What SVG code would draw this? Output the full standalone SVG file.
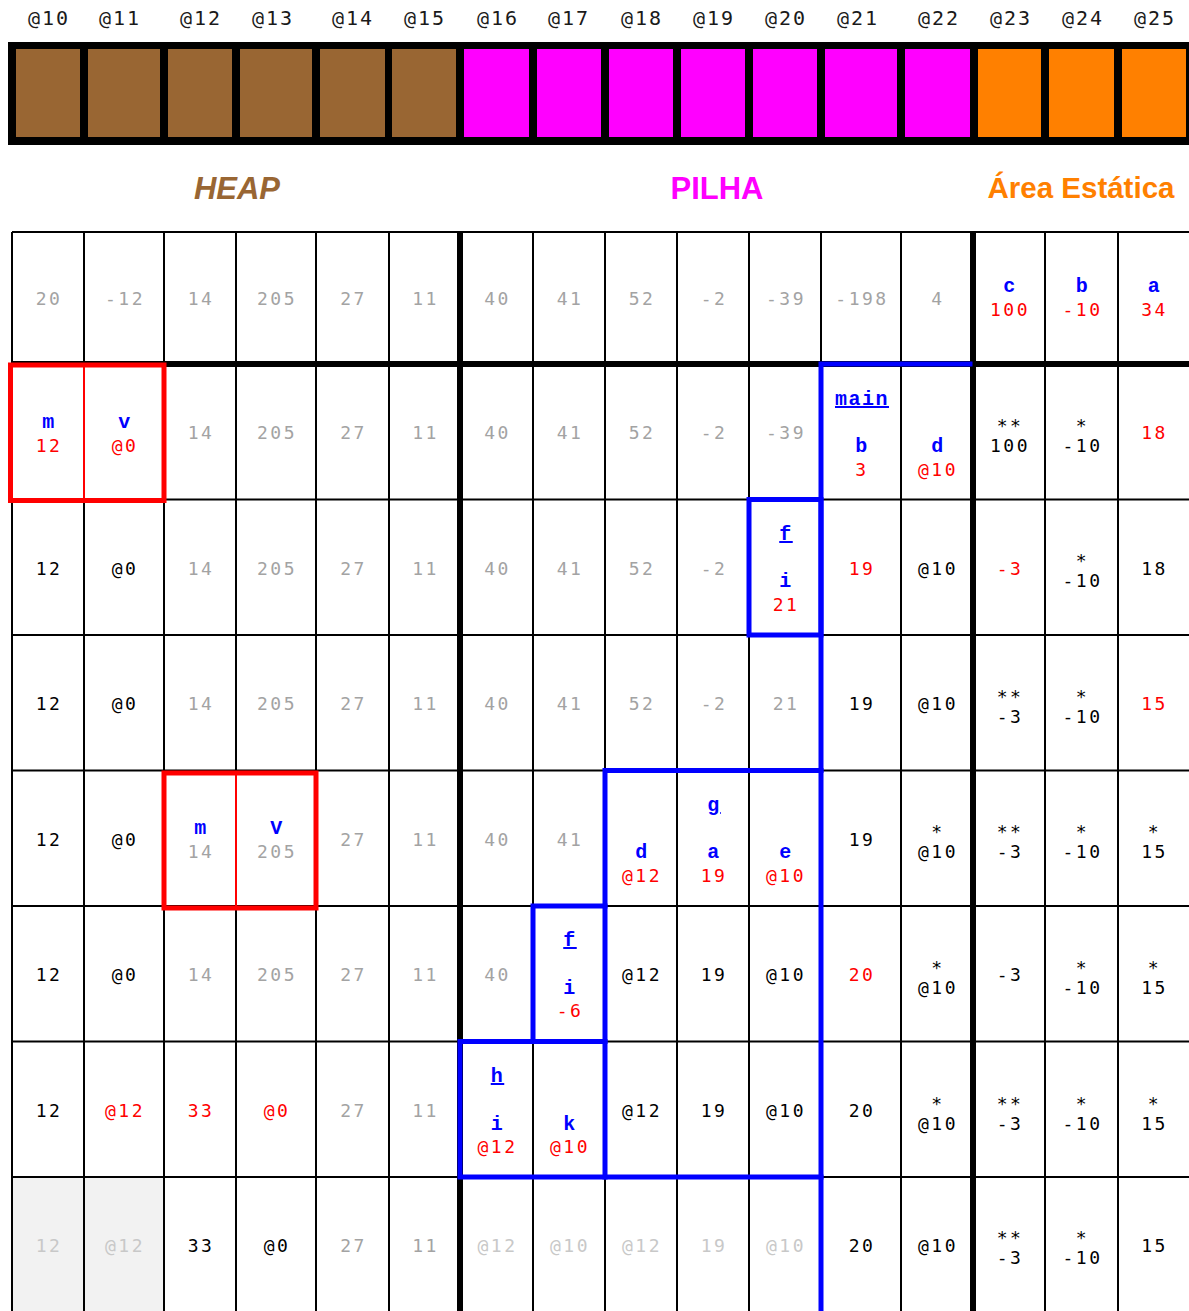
<svg xmlns="http://www.w3.org/2000/svg" width="1189" height="1311" viewBox="0 0 1189 1311">
<style>
.h{font-family:"DejaVu Sans Mono",monospace;font-size:20px;letter-spacing:2px;fill:#1a1a1a;text-anchor:middle}
.v{font-family:"DejaVu Sans Mono",monospace;font-size:18px;letter-spacing:2.5px;text-anchor:middle}
.g{fill:#a3a3a3}.k{fill:#000}.r{fill:#ff0000}.l{fill:#c8c8c8}
.n{font-family:"Liberation Mono","Courier New",monospace;font-weight:bold;font-size:20px;letter-spacing:1.5px;fill:#0000ff;text-anchor:middle}
.u{text-decoration:underline}
.sec{font-family:"Liberation Sans",Arial,sans-serif;font-weight:bold;text-anchor:middle}
.thin{stroke:#000;stroke-width:2;fill:none}
.thick{stroke:#000;stroke-width:6;fill:none}
.blue{stroke:#0000ff;stroke-width:5;fill:none;stroke-linecap:square}
.red{stroke:#ff0000;stroke-width:5;fill:none}
.redthin{stroke:#ff0000;stroke-width:2}
</style>
<rect width="1189" height="1311" fill="#fff"/>
<g id="addresses">
<text class="h" x="49" y="25">@10</text><text class="h" x="120" y="25">@11</text><text class="h" x="201" y="25">@12</text><text class="h" x="273" y="25">@13</text><text class="h" x="353" y="25">@14</text><text class="h" x="425" y="25">@15</text><text class="h" x="498" y="25">@16</text><text class="h" x="569" y="25">@17</text><text class="h" x="642" y="25">@18</text><text class="h" x="714" y="25">@19</text><text class="h" x="786" y="25">@20</text><text class="h" x="858" y="25">@21</text><text class="h" x="939" y="25">@22</text><text class="h" x="1011" y="25">@23</text><text class="h" x="1083" y="25">@24</text><text class="h" x="1155" y="25">@25</text>
</g>
<g id="memory-bar">
<rect x="8" y="42" width="1181" height="103" fill="#000"/>
<g fill="#996633"><rect x="16" y="49" width="64" height="88"/><rect x="88" y="49" width="72" height="88"/><rect x="168" y="49" width="64" height="88"/><rect x="240" y="49" width="72" height="88"/><rect x="320" y="49" width="65" height="88"/><rect x="392" y="49" width="64" height="88"/></g>
<g fill="#ff00ff"><rect x="464" y="49" width="65" height="88"/><rect x="537" y="49" width="64" height="88"/><rect x="609" y="49" width="64" height="88"/><rect x="681" y="49" width="64" height="88"/><rect x="753" y="49" width="64" height="88"/><rect x="825" y="49" width="72" height="88"/><rect x="905" y="49" width="65" height="88"/></g>
<g fill="#ff8000"><rect x="978" y="49" width="63" height="88"/><rect x="1049" y="49" width="65" height="88"/><rect x="1122" y="49" width="64" height="88"/></g>
</g>
<g id="sections">
<text class="sec" x="237" y="199" font-size="31" font-style="italic" fill="#996633">HEAP</text>
<text class="sec" x="717" y="199" font-size="31" fill="#ff00ff">PILHA</text>
<text class="sec" x="1081" y="198" font-size="29.5" fill="#ff8000">Área Estática</text>
</g>
<rect x="12" y="1177" width="152" height="134" fill="#f2f2f2"/>
<g id="grid">
<path class="thin" d="M12,232V1311M84,232V1311M164,232V1311M236,232V1311M316,232V1311M389,232V1311M533,232V1311M605,232V1311M677,232V1311M749,232V1311M821,232V1311M901,232V1311M1045,232V1311M1118,232V1311"/>
<path class="thin" d="M12,232H1189M12,499.5H1189M12,635H1189M12,770.5H1189M12,906H1189M12,1041.5H1189M12,1177H1189"/>
<path class="thick" d="M460,232V1311M973,232V1311M12,364H1189"/>
</g>
<g id="cells">
<g id="r1"><text class="v g" x="49" y="305">20</text><text class="v g" x="125" y="305">-12</text><text class="v g" x="201" y="305">14</text><text class="v g" x="277" y="305">205</text><text class="v g" x="353.5" y="305">27</text><text class="v g" x="425.5" y="305">11</text><text class="v g" x="497.5" y="305">40</text><text class="v g" x="570" y="305">41</text><text class="v g" x="642" y="305">52</text><text class="v g" x="714" y="305">-2</text><text class="v g" x="786" y="305">-39</text><text class="v g" x="862" y="305">-198</text><text class="v g" x="938" y="305">4</text>
<g id="var-c"><text class="n" x="1010" y="292">c</text><text class="v r" x="1010" y="316">100</text></g>
<g id="var-b"><text class="n" x="1082.5" y="292">b</text><text class="v r" x="1082.5" y="316">-10</text></g>
<g id="var-a"><text class="n" x="1154.5" y="292">a</text><text class="v r" x="1154.5" y="316">34</text></g></g>
<g id="r2"><text class="n" x="49" y="428">m</text><text class="v r" x="49" y="452">12</text><text class="n" x="125" y="428">v</text><text class="v r" x="125" y="452">@0</text><text class="v g" x="201" y="439">14</text><text class="v g" x="277" y="439">205</text><text class="v g" x="353.5" y="439">27</text><text class="v g" x="425.5" y="439">11</text><text class="v g" x="497.5" y="439">40</text><text class="v g" x="570" y="439">41</text><text class="v g" x="642" y="439">52</text><text class="v g" x="714" y="439">-2</text><text class="v g" x="786" y="439">-39</text>
<text class="n u" x="862" y="405">main</text><text class="n" x="862" y="452">b</text><text class="v r" x="862" y="475.5">3</text><text class="n" x="938" y="452">d</text><text class="v r" x="938" y="475.5">@10</text>
<text class="v k" x="1010" y="432">**</text><text class="v k" x="1010" y="452">100</text><text class="v k" x="1082.5" y="432">*</text><text class="v k" x="1082.5" y="452">-10</text><text class="v r" x="1154.5" y="439">18</text></g>
<g id="r3"><text class="v k" x="49" y="575">12</text><text class="v k" x="125" y="575">@0</text><text class="v g" x="201" y="575">14</text><text class="v g" x="277" y="575">205</text><text class="v g" x="353.5" y="575">27</text><text class="v g" x="425.5" y="575">11</text><text class="v g" x="497.5" y="575">40</text><text class="v g" x="570" y="575">41</text><text class="v g" x="642" y="575">52</text><text class="v g" x="714" y="575">-2</text>
<text class="n u" x="786" y="540">f</text><text class="n" x="786" y="587">i</text><text class="v r" x="786" y="611">21</text>
<text class="v r" x="862" y="575">19</text><text class="v k" x="938" y="575">@10</text><text class="v r" x="1010" y="575">-3</text><text class="v k" x="1082.5" y="567">*</text><text class="v k" x="1082.5" y="587">-10</text><text class="v k" x="1154.5" y="575">18</text></g>
<g id="r4"><text class="v k" x="49" y="710">12</text><text class="v k" x="125" y="710">@0</text><text class="v g" x="201" y="710">14</text><text class="v g" x="277" y="710">205</text><text class="v g" x="353.5" y="710">27</text><text class="v g" x="425.5" y="710">11</text><text class="v g" x="497.5" y="710">40</text><text class="v g" x="570" y="710">41</text><text class="v g" x="642" y="710">52</text><text class="v g" x="714" y="710">-2</text><text class="v g" x="786" y="710">21</text><text class="v k" x="862" y="710">19</text><text class="v k" x="938" y="710">@10</text>
<text class="v k" x="1010" y="703">**</text><text class="v k" x="1010" y="723">-3</text><text class="v k" x="1082.5" y="703">*</text><text class="v k" x="1082.5" y="723">-10</text><text class="v r" x="1154.5" y="710">15</text></g>
<g id="r5"><text class="v k" x="49" y="845.5">12</text><text class="v k" x="125" y="845.5">@0</text><text class="n" x="201" y="834">m</text><text class="v g" x="201" y="858">14</text><text class="n" x="277" y="834">V</text><text class="v g" x="277" y="858">205</text><text class="v g" x="353.5" y="845.5">27</text><text class="v g" x="425.5" y="845.5">11</text><text class="v g" x="497.5" y="845.5">40</text><text class="v g" x="570" y="845.5">41</text>
<text class="n" x="642" y="858">d</text><text class="v r" x="642" y="882">@12</text><text class="n u" x="714" y="811">g</text><text class="n" x="714" y="858">a</text><text class="v r" x="714" y="882">19</text><text class="n" x="786" y="858">e</text><text class="v r" x="786" y="882">@10</text>
<text class="v k" x="862" y="845.5">19</text><text class="v k" x="938" y="838">*</text><text class="v k" x="938" y="858">@10</text><text class="v k" x="1010" y="838">**</text><text class="v k" x="1010" y="858">-3</text><text class="v k" x="1082.5" y="838">*</text><text class="v k" x="1082.5" y="858">-10</text><text class="v k" x="1154.5" y="838">*</text><text class="v k" x="1154.5" y="858">15</text></g>
<g id="r6"><text class="v k" x="49" y="981">12</text><text class="v k" x="125" y="981">@0</text><text class="v g" x="201" y="981">14</text><text class="v g" x="277" y="981">205</text><text class="v g" x="353.5" y="981">27</text><text class="v g" x="425.5" y="981">11</text><text class="v g" x="497.5" y="981">40</text>
<text class="n u" x="570" y="946">f</text><text class="n" x="570" y="993.5">i</text><text class="v r" x="570" y="1017">-6</text>
<text class="v k" x="642" y="981">@12</text><text class="v k" x="714" y="981">19</text><text class="v k" x="786" y="981">@10</text><text class="v r" x="862" y="981">20</text><text class="v k" x="938" y="974">*</text><text class="v k" x="938" y="994">@10</text><text class="v k" x="1010" y="981">-3</text><text class="v k" x="1082.5" y="974">*</text><text class="v k" x="1082.5" y="994">-10</text><text class="v k" x="1154.5" y="974">*</text><text class="v k" x="1154.5" y="994">15</text></g>
<g id="r7"><text class="v k" x="49" y="1117">12</text><text class="v r" x="125" y="1117">@12</text><text class="v r" x="201" y="1117">33</text><text class="v r" x="277" y="1117">@0</text><text class="v g" x="353.5" y="1117">27</text><text class="v g" x="425.5" y="1117">11</text>
<text class="n u" x="497.5" y="1082">h</text><text class="n" x="497.5" y="1129.5">i</text><text class="v r" x="497.5" y="1153">@12</text><text class="n" x="570" y="1129.5">k</text><text class="v r" x="570" y="1153">@10</text>
<text class="v k" x="642" y="1117">@12</text><text class="v k" x="714" y="1117">19</text><text class="v k" x="786" y="1117">@10</text><text class="v k" x="862" y="1117">20</text><text class="v k" x="938" y="1110">*</text><text class="v k" x="938" y="1130">@10</text><text class="v k" x="1010" y="1110">**</text><text class="v k" x="1010" y="1130">-3</text><text class="v k" x="1082.5" y="1110">*</text><text class="v k" x="1082.5" y="1130">-10</text><text class="v k" x="1154.5" y="1110">*</text><text class="v k" x="1154.5" y="1130">15</text></g>
<g id="r8"><text class="v l" x="49" y="1252">12</text><text class="v l" x="125" y="1252">@12</text><text class="v k" x="201" y="1252">33</text><text class="v k" x="277" y="1252">@0</text><text class="v g" x="353.5" y="1252">27</text><text class="v g" x="425.5" y="1252">11</text><text class="v l" x="497.5" y="1252">@12</text><text class="v l" x="570" y="1252">@10</text><text class="v l" x="642" y="1252">@12</text><text class="v l" x="714" y="1252">19</text><text class="v l" x="786" y="1252">@10</text><text class="v k" x="862" y="1252">20</text><text class="v k" x="938" y="1252">@10</text><text class="v k" x="1010" y="1244">**</text><text class="v k" x="1010" y="1264">-3</text><text class="v k" x="1082.5" y="1244">*</text><text class="v k" x="1082.5" y="1264">-10</text><text class="v k" x="1154.5" y="1252">15</text></g>
</g>
<g id="heap-objects">
<rect class="red" x="10.5" y="365" width="153.5" height="135.5"/><line class="redthin" x1="84" y1="366" x2="84" y2="499"/>
<rect class="red" x="164" y="773" width="152" height="135"/><line class="redthin" x1="236" y1="774" x2="236" y2="907"/>
</g>
<g id="stack-frames">
<path class="blue" d="M970,364H821V1311" stroke-linecap="butt"/>
<rect class="blue" x="749" y="499.5" width="72" height="135.5"/>
<path class="blue" d="M605,1177V770.5H821"/>
<path class="blue" d="M605,906H533V1041.5"/>
<path class="blue" d="M605,1041.5H460V1177H821"/>
</g>
</svg>
